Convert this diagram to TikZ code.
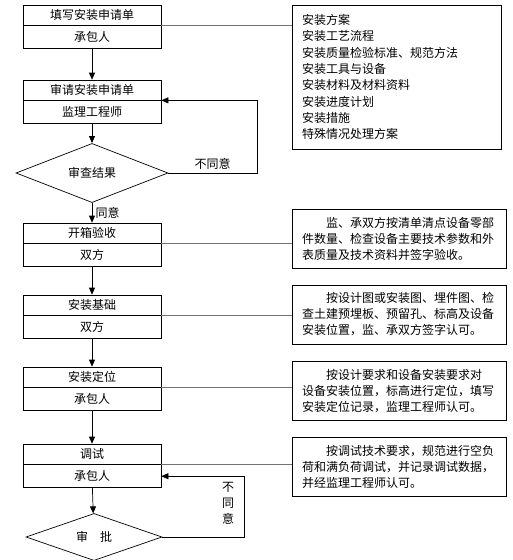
\documentclass[tikz,border=0pt]{standalone}
\usepackage{fontspec}
\setmainfont{Noto Sans CJK SC}
\usetikzlibrary{positioning,shapes.geometric,arrows.meta}

\begin{document}
\begin{tikzpicture}[x=1pt, y=-1pt, line width=0.7pt,
    font=\fontsize{12}{16}\selectfont,
    titlebox/.style={draw, rectangle, minimum width=138pt, minimum height=20pt, inner sep=0pt},
    rolebox/.style={draw, rectangle, minimum width=138pt, minimum height=23pt, inner sep=0pt},
    notebox/.style={draw, rectangle, minimum height=59pt, inner xsep=10pt, text width=194pt, align=left},
    check/.style={draw, diamond, inner sep=0pt},
    arr/.style={-{Triangle[length=7pt,width=6pt]}},
    link/.style={draw=black!55, line width=0.6pt}]
    \useasboundingbox (0,0) rectangle (513,560);

    % Caixas das etapas
    \node[titlebox] (t1) at (92,15) {填写安装申请单};
    \node[rolebox, below=0pt of t1] (r1) {承包人};
    \node[titlebox] (t2) at (92,90) {审请安装申请单};
    \node[rolebox, below=0pt of t2] (r2) {监理工程师};
    \node[check, minimum width=152pt, minimum height=50pt] (d1) at (92,173) {审查结果};
    \node[titlebox] (t3) at (92,233) {开箱验收};
    \node[rolebox, below=0pt of t3] (r3) {双方};
    \node[titlebox] (t4) at (92,305) {安装基础};
    \node[rolebox, below=0pt of t4] (r4) {双方};
    \node[titlebox] (t5) at (92,377) {安装定位};
    \node[rolebox, below=0pt of t5] (r5) {承包人};
    \node[titlebox] (t6) at (92,454) {调试};
    \node[rolebox, below=0pt of t6] (r6) {承包人};
    \node[check, minimum width=136pt, minimum height=42pt] (d2) at (94,537) {审\quad 批};

    % Caixas de texto à direita
    \node[draw, rectangle, minimum height=144pt, inner xsep=10pt, text width=189pt, align=left,
      font=\fontsize{12}{16.3}\selectfont] (lst) at (396.5,77)
      {安装方案\\安装工艺流程\\安装质量检验标准、规范方法\\安装工具与设备\\安装材料及材料资料\\安装进度计划\\安装措施\\特殊情况处理方案};
    \node[notebox] (n3) at (399,238.5)
      {\hspace*{2em}监、承双方按清单清点设备零部\\件数量、检查设备主要技术参数和外\\表质量及技术资料并签字验收。};
    \node[notebox] (n4) at (399,314.5)
      {\hspace*{2em}按设计图或安装图、埋件图、检\\查土建预埋板、预留孔、标高及设备\\安装位置，监、承双方签字认可。};
    \node[notebox] (n5) at (399,391)
      {\hspace*{2em}按设计要求和设备安装要求对\\设备安装位置，标高进行定位，填写\\安装定位记录，监理工程师认可。};
    \node[notebox] (n6) at (399,467)
      {\hspace*{2em}按调试技术要求，规范进行空负\\荷和满负荷调试，并记录调试数据，\\并经监理工程师认可。};

    % Setas principais
    \draw[arr] (r1) -- (t2);
    \draw[arr] (r2) -- (d1);
    \draw[arr] (d1) -- node[right] {同意} (t3);
    \draw[arr] (r3) -- (t4);
    \draw[arr] (r4) -- (t5);
    \draw[arr] (r5) -- (t6);
    \draw[arr] (r6) -- (d2);

    % Retornos
    \coordinate (k1) at (257,173);
    \coordinate (k2) at (244,537);
    \draw[arr] (d1.east) -- node[above] {不同意} (k1) |- (t2.south east);
    \draw[arr] (d2.east) -- (k2) |- (r6.east);
    \node[align=center] (nq) at (228,503) {不\\同\\意};

    % Linhas para as caixas de texto
    \draw[link] (t1.south east) -- (t1.south east -| lst.west);
    \draw[link] (t3.south east) -- (t3.south east -| n3.west);
    \draw[link] (t4.south east) -- (t4.south east -| n4.west);
    \draw[link] (t5.south east) -- (t5.south east -| n5.west);
    \draw[link] (t6.south east) -- (t6.south east -| n6.west);
\end{tikzpicture}
\end{document}
